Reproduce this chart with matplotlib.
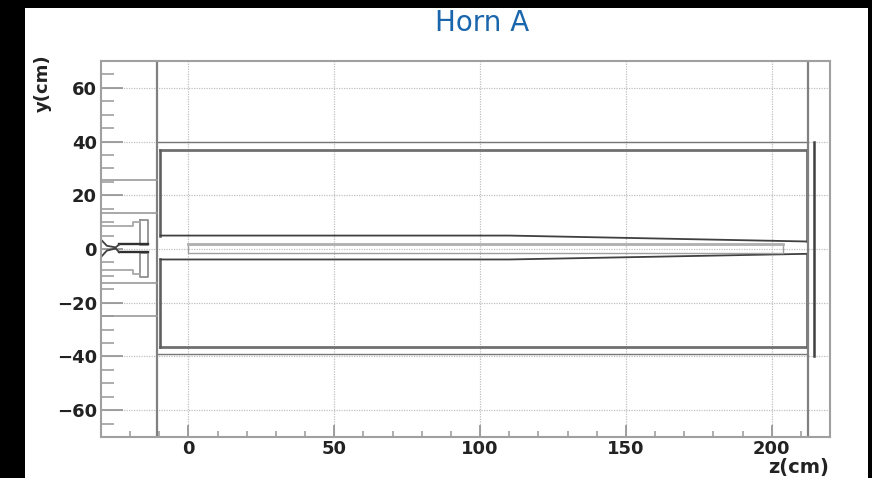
import matplotlib
matplotlib.use('Agg')
import matplotlib.pyplot as plt
from matplotlib.patches import Rectangle

## Geometry (cm)
# outer box of the horn
box_top_z = [-10.5, 212]
box_top_y = [40, 40]
box_bot_z = [-10.5, 212]
box_bot_y = [-39, -39]

# conductor, upper and lower half
upper_long_z = [-9.6, 212]
upper_long_y = [37, 37]
lower_long_z = [-9.6, 212]
lower_long_y = [-36.5, -36.5]
neck_up_z = [-9.6, 110, 212]
neck_up_y = [5, 5, 2.8]
neck_lo_z = [-9.6, 110, 212]
neck_lo_y = [-3.9, -3.9, -1.8]
side_left_z = [-9.6, -9.6]
side_right_z = [212, 212]

# target tube
target_z = [0, 204, 204, 0, 0]
target_y = [1.9, 1.9, -1.5, -1.5, 1.9]
target_top_z = [0, 204]
target_top_y = [1.9, 1.9]

# full height walls and end plate
wall_z = [-10.8, 212.3]
plate_z = [214.5, 214.5]
plate_y = [40, -40]

# short lines from left axis to the wall
stub_y = [25.7, 13.4, -12.5, -25]
stub_z = [-30, -10.8]

# baffle pieces on the left
flange_up_z = [-16.5, -14, -14, -16.5, -16.5]
flange_up_y = [10.8, 10.8, 1.6, 1.6, 10.8]
flange_lo_z = [-16.5, -14, -14, -16.5, -16.5]
flange_lo_y = [-1.4, -1.4, -10.5, -10.5, -1.4]
step_up_z = [-30, -18.9, -18.9, -16.5]
step_up_y = [8.5, 8.5, 10, 10]
step_lo_z = [-30, -18.9, -18.9, -16.5]
step_lo_y = [-7.8, -7.8, -9.4, -9.4]
pipe_z = [-23.7, -14]
pipe_up_y = [1.7, 1.7]
pipe_lo_y = [-1.2, -1.2]
nose_z = [-30, -28, -25, -23.7]
nose_up_y = [3.5, 1.2, 0.6, 1.7]
nose_lo_y = [-3.0, -0.6, 0.2, -1.2]

x_ticks = [0, 50, 100, 150, 200]
y_ticks = [-60, -40, -20, 0, 20, 40, 60]
x_minor = [-20, -10, 10, 20, 30, 40, 60, 70, 80, 90, 110, 120, 130, 140, 160, 170, 180, 190, 210]
y_minor = [-65, -55, -50, -45, -35, -30, -25, -15, -10, -5, 5, 10, 15, 25, 30, 35, 45, 50, 55, 65]

W, H = 872, 478
fig = plt.figure(figsize=(W / 100, H / 100), dpi=100, facecolor='black')
# white sheet on the black screen
fig.patches.append(Rectangle((25 / W, 0), (868 - 25) / W, 1 - 8 / H, transform=fig.transFigure,
                             facecolor='white', edgecolor='none', zorder=-1))

ax = fig.add_axes([101 / W, 1 - 437 / H, (830 - 101) / W, (437 - 61) / H])
ax.set_facecolor('white')
ax.set_xlim(-30, 220)
ax.set_ylim(-70, 70)

ax.plot(box_top_z, box_top_y, color='#777777', lw=1.0)
ax.plot(box_bot_z, box_bot_y, color='#777777', lw=1.0)
ax.plot(upper_long_z, upper_long_y, color='#707070', lw=2.0)
ax.plot(lower_long_z, lower_long_y, color='#707070', lw=2.0)
ax.plot(side_left_z, [37, 5], color='#606060', lw=1.9)
ax.plot(side_left_z, [-36.5, -3.9], color='#606060', lw=1.9)
ax.plot(side_right_z, [37, 2.8], color='#606060', lw=1.9)
ax.plot(side_right_z, [-36.5, -1.8], color='#606060', lw=1.9)
ax.plot(neck_up_z, neck_up_y, color='#404040', lw=1.3)
ax.plot(neck_lo_z, neck_lo_y, color='#404040', lw=1.3)

ax.plot(target_z, target_y, color='#a0a0a0', lw=1.0)
ax.plot(target_top_z, target_top_y, color='#b0b0b0', lw=2.0)

for z in wall_z:
    ax.axvline(z, color='#808080', lw=1.6)
ax.plot(plate_z, plate_y, color='#404040', lw=1.8)
for y in stub_y:
    ax.plot(stub_z, [y, y], color='#999999', lw=1.2)

ax.plot(flange_up_z, flange_up_y, color='#909090', lw=1.3)
ax.plot(flange_lo_z, flange_lo_y, color='#909090', lw=1.3)
ax.plot(step_up_z, step_up_y, color='#a8a8a8', lw=1.3)
ax.plot(step_lo_z, step_lo_y, color='#a8a8a8', lw=1.3)
ax.plot(pipe_z, pipe_up_y, color='#303030', lw=1.7)
ax.plot(pipe_z, pipe_lo_y, color='#303030', lw=1.7)
ax.plot(nose_z, nose_up_y, color='#404040', lw=1.3)
ax.plot(nose_z, nose_lo_y, color='#404040', lw=1.3)

# ROOT style axes: ticks inside, bold labels
ax.set_xticks(x_ticks)
ax.set_yticks(y_ticks)
ax.set_xticks(x_minor, minor=True)
ax.set_yticks(y_minor, minor=True)
ax.grid(True, which='major', color='#c0c0c0', linestyle=(0, (1, 1)), lw=0.9)
ax.set_axisbelow(True)
ax.tick_params(axis='y', which='major', direction='in', length=16, width=1.2, color='#909090', pad=3)
ax.tick_params(axis='y', which='minor', direction='in', length=9, width=1.2, color='#a0a0a0')
ax.tick_params(axis='x', which='major', direction='in', length=9, width=1.2, color='#909090', pad=2)
ax.tick_params(axis='x', which='minor', direction='in', length=4, width=1.2, color='#a0a0a0')
for lab in ax.get_xticklabels() + ax.get_yticklabels():
    lab.set_fontweight('bold')
    lab.set_fontsize(13)
    lab.set_color('#222222')
for s in ax.spines.values():
    s.set_color('#a0a0a0')
    s.set_linewidth(1.5)

fig.text(829 / W, 1 - 467 / H, 'z(cm)', ha='right', va='center', fontsize=14, fontweight='bold', color='#222222')
fig.text(43 / W, 1 - 83 / H, 'y(cm)', rotation=90, ha='center', va='center', fontsize=13, fontweight='bold', color='#222222')
fig.text(482 / W, 1 - 23 / H, 'Horn A', ha='center', va='center', fontsize=20, color='#1a66ad')

fig.savefig('out.png', dpi=100, facecolor=fig.get_facecolor())
